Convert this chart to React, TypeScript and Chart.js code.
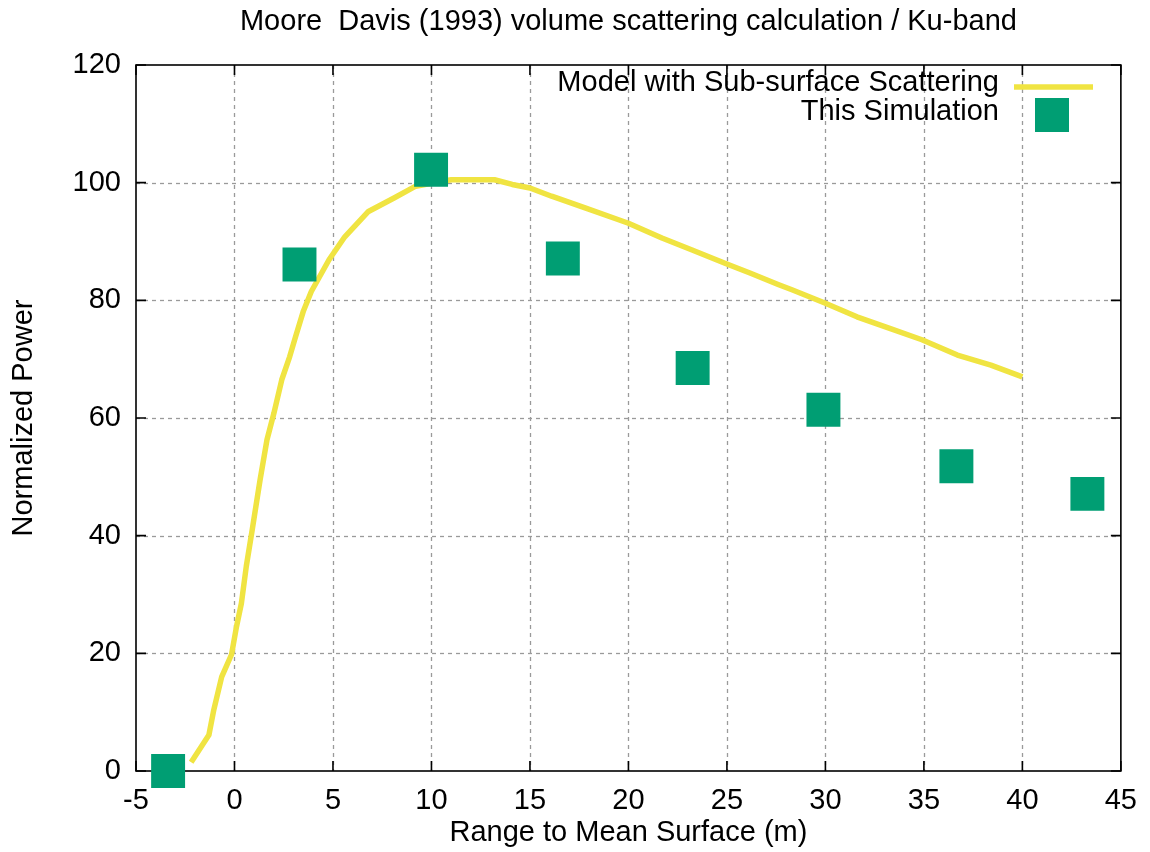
import React, { useEffect, useRef } from "react";
import { Chart, registerables } from "chart.js";

Chart.register(...registerables);

const titleText = "Moore  Davis (1993) volume scattering calculation / Ku-band";
const xAxisTitle = "Range to Mean Surface (m)";
const yAxisTitle = "Normalized Power";
const modelLabel = "Model with Sub-surface Scattering";
const simLabel = "This Simulation";

const modelX = [
  -2.2, -1.3, -1.05, -0.65, -0.15, 0.1, 0.35, 0.6, 0.9, 1.3, 1.65, 2.0, 2.4, 2.8, 3.1, 3.5, 3.9, 4.8, 5.6,
  6.8, 8.1, 9.2, 10.0, 11.0, 13.2, 14.1, 15.0, 16.1, 17.8, 19.5, 20.0, 21.7, 23.2, 24.9, 26.2, 27.6,
  28.3, 30.0, 31.6, 33.3, 34.9, 36.7, 38.4, 40.0,
];
const modelY = [
  1.5, 6.1, 10.4, 16.0, 19.8, 24.5, 28.5, 34.8, 41.0, 49.5, 56.3, 60.8, 66.5, 70.4, 73.8, 78.2, 81.5,
  86.9, 90.8, 95.1, 97.4, 99.4, 99.9, 100.5, 100.5, 99.7, 99.1, 97.7, 95.7, 93.7, 93.1, 90.6, 88.6,
  86.3, 84.6, 82.7, 81.8, 79.5, 77.2, 75.2, 73.3, 70.7, 69.0, 67.0,
];

const simX = [-3.37, 3.3, 9.98, 16.67, 23.26, 29.9, 36.65, 43.3];
const simY = [0, 86.1, 102.2, 87.1, 68.5, 61.4, 51.8, 47.1];

const xTicks = [-5, 0, 5, 10, 15, 20, 25, 30, 35, 40, 45];
const yTicks = [0, 20, 40, 60, 80, 100, 120];

const FONT = "'Liberation Sans', Arial, sans-serif";
const LINE_COLOR = "#f0e442";
const SQUARE_COLOR = "#009e73";

const decorPlugin = {
  id: "decor",
  beforeDatasetsDraw(chart: any) {
    const { ctx, chartArea: a, scales } = chart;
    const x = scales.x;
    const y = scales.y;
    ctx.save();
    // grid
    ctx.strokeStyle = "#9a9a9a";
    ctx.lineWidth = 1.3;
    ctx.setLineDash([4, 4]);
    xTicks.forEach((v) => {
      if (v <= xTicks[0] || v >= xTicks[xTicks.length - 1]) return;
      const px = Math.round(x.getPixelForValue(v)) + 0.5;
      ctx.beginPath();
      ctx.moveTo(px, a.top);
      ctx.lineTo(px, a.bottom);
      ctx.stroke();
    });
    yTicks.forEach((v) => {
      if (v <= yTicks[0] || v >= yTicks[yTicks.length - 1]) return;
      const py = Math.round(y.getPixelForValue(v)) + 0.5;
      ctx.beginPath();
      ctx.moveTo(a.left, py);
      ctx.lineTo(a.right, py);
      ctx.stroke();
    });
    ctx.setLineDash([]);
    // border
    ctx.strokeStyle = "#000";
    ctx.lineWidth = 1.6;
    ctx.strokeRect(a.left, a.top, a.right - a.left, a.bottom - a.top);
    // inward tick marks on all sides
    const tl = 10;
    xTicks.forEach((v) => {
      const px = x.getPixelForValue(v);
      ctx.beginPath();
      ctx.moveTo(px, a.bottom);
      ctx.lineTo(px, a.bottom - tl);
      ctx.moveTo(px, a.top);
      ctx.lineTo(px, a.top + tl);
      ctx.stroke();
    });
    yTicks.forEach((v) => {
      const py = y.getPixelForValue(v);
      ctx.beginPath();
      ctx.moveTo(a.left, py);
      ctx.lineTo(a.left + tl, py);
      ctx.moveTo(a.right, py);
      ctx.lineTo(a.right - tl, py);
      ctx.stroke();
    });
    ctx.restore();
  },
  afterDraw(chart: any) {
    const { ctx, chartArea: a } = chart;
    const cx = (a.left + a.right) / 2;
    ctx.save();
    ctx.fillStyle = "#000";
    ctx.font = `29px ${FONT}`;
    ctx.textAlign = "center";
    ctx.textBaseline = "middle";
    ctx.fillText(titleText, cx, 22);
    ctx.fillText(xAxisTitle, cx, 833);
    ctx.save();
    ctx.translate(24, (a.top + a.bottom) / 2);
    ctx.rotate(-Math.PI / 2);
    ctx.fillText(yAxisTitle, 0, 0);
    ctx.restore();
    // legend
    ctx.textAlign = "right";
    ctx.fillText(modelLabel, 999, 83);
    ctx.fillText(simLabel, 999, 112);
    ctx.strokeStyle = LINE_COLOR;
    ctx.lineWidth = 5.5;
    ctx.beginPath();
    ctx.moveTo(1014, 87);
    ctx.lineTo(1093, 87);
    ctx.stroke();
    ctx.fillStyle = SQUARE_COLOR;
    ctx.fillRect(1035, 98, 34, 34);
    ctx.restore();
  },
};

export default function App() {
  const ref = useRef<HTMLCanvasElement>(null);
  useEffect(() => {
    if (!ref.current) return;
    const chart = new Chart(ref.current, {
      type: "scatter",
      data: {
        datasets: [
          {
            label: simLabel,
            data: simX.map((v, i) => ({ x: v, y: simY[i] })),
            pointStyle: "rect",
            pointRadius: 24,
            pointHoverRadius: 24,
            backgroundColor: SQUARE_COLOR,
            borderColor: SQUARE_COLOR,
            borderWidth: 0,
            showLine: false,
            clip: false,
          } as any,
          {
            label: modelLabel,
            data: modelX.map((v, i) => ({ x: v, y: modelY[i] })),
            showLine: true,
            pointRadius: 0,
            pointHoverRadius: 0,
            borderColor: LINE_COLOR,
            backgroundColor: LINE_COLOR,
            borderWidth: 5.5,
            tension: 0,
            borderJoinStyle: "round",
          } as any,
        ],
      },
      options: {
        animation: false,
        responsive: false,
        maintainAspectRatio: false,
        events: [],
        layout: { padding: { top: 65, right: 28, left: 0, bottom: 0 } },
        plugins: { legend: { display: false }, tooltip: { enabled: false }, title: { display: false } },
        scales: {
          x: {
            type: "linear",
            min: -5,
            max: 45,
            afterBuildTicks: (s: any) => {
              s.ticks = xTicks.map((v) => ({ value: v }));
            },
            afterFit: (s: any) => {
              s.height = 81;
            },
            grid: { display: false, drawTicks: false },
            border: { display: false },
            ticks: { color: "#000", font: { family: FONT, size: 29 }, padding: 13, maxRotation: 0, autoSkip: false },
          },
          y: {
            type: "linear",
            min: 0,
            max: 120,
            afterBuildTicks: (s: any) => {
              s.ticks = yTicks.map((v) => ({ value: v }));
            },
            afterFit: (s: any) => {
              s.width = 136;
            },
            grid: { display: false, drawTicks: false },
            border: { display: false },
            ticks: { color: "#000", font: { family: FONT, size: 29 }, padding: 15, autoSkip: false },
          },
        },
      },
      plugins: [decorPlugin],
    });
    return () => chart.destroy();
  }, []);
  return (
    <div style={{ position: "fixed", left: 0, top: 0, width: 1150, height: 852, background: "#fff" }}>
      <canvas ref={ref} width={1150} height={852} style={{ width: 1150, height: 852, display: "block" }} />
    </div>
  );
}
